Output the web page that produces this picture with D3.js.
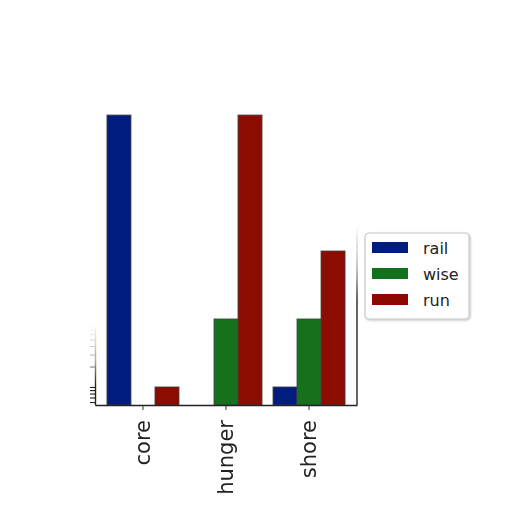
<!DOCTYPE html>
<html>
<head>
<meta charset="utf-8">
<script src="https://cdn.jsdelivr.net/npm/d3@7"></script>
<style>
  html, body { margin: 0; padding: 0; background: #fff; }
  svg { display: block; font-family: "DejaVu Sans", sans-serif; }
</style>
</head>
<body>
<div id="chart"></div>
<script>
// categories and series (log y axis)
var categories = ["core", "hunger", "shore"];
var seriesNames = ["rail", "wise", "run"];
var railValues = [10000, 0, 1];
var wiseValues = [0, 10, 10];
var runValues = [1, 10000, 100];
var colors = ["#001c7f", "#12711c", "#8c0800"];

var width = 512, height = 512;
var margin = {top: 100, right: 155, bottom: 107, left: 95};

var svg = d3.select("#chart").append("svg")
    .attr("width", width)
    .attr("height", height);

var defs = svg.append("defs");

// spines/ticks fade out going up
function fadeGrad(id, y0, y1) {
  var g = defs.append("linearGradient")
      .attr("id", id)
      .attr("gradientUnits", "userSpaceOnUse")
      .attr("x1", 0).attr("x2", 0)
      .attr("y1", y0).attr("y2", y1);
  g.append("stop").attr("offset", 0).attr("stop-color", "#fff").attr("stop-opacity", 0);
  g.append("stop").attr("offset", 0.6).attr("stop-color", "#fff").attr("stop-opacity", 0.4);
  g.append("stop").attr("offset", 1).attr("stop-color", "#fff").attr("stop-opacity", 1);
  var m = defs.append("mask").attr("id", id + "-mask")
      .attr("maskUnits", "userSpaceOnUse")
      .attr("x", -width).attr("y", 0).attr("width", 3 * width).attr("height", height);
  m.append("rect").attr("x", -width).attr("y", 0).attr("width", 3 * width).attr("height", height)
      .attr("fill", "url(#" + id + ")");
}
fadeGrad("fadeLeft", 325, 385);
fadeGrad("fadeRight", 225, 300);

var soft = defs.append("filter").attr("id", "soft")
    .attr("x", "-10%").attr("y", "-10%").attr("width", "120%").attr("height", "120%");
soft.append("feGaussianBlur").attr("stdDeviation", 0.55);

var legendShadow = defs.append("filter").attr("id", "lshadow")
    .attr("x", "-20%").attr("y", "-20%").attr("width", "140%").attr("height", "140%");
legendShadow.append("feDropShadow").attr("dx", 1).attr("dy", 1)
    .attr("stdDeviation", 1.2).attr("flood-color", "#000").attr("flood-opacity", 0.25);

var x0 = d3.scaleBand()
    .domain(categories)
    .range([margin.left, width - margin.right])
    .paddingInner(0.1325)
    .paddingOuter(0.144);

var x1 = d3.scaleBand()
    .domain(seriesNames)
    .range([0, x0.bandwidth()]);

var y = d3.scaleLog()
    .domain([0.543, 16650])
    .range([height - margin.bottom, margin.top]);

var table = seriesNames.map(function(s, i) {
  var vals = [railValues, wiseValues, runValues][i];
  return categories.map(function(c, j) {
    return {series: s, cat: c, value: vals[j], color: colors[i]};
  });
});

var plot = svg.append("g").attr("filter", "url(#soft)");

// bars
plot.append("g")
  .selectAll("g")
  .data(table)
  .join("g")
    .attr("fill", function(d, i) { return colors[i]; })
  .selectAll("rect")
  .data(function(d) { return d.filter(function(e) { return e.value > 0; }); })
  .join("rect")
    .attr("x", function(d) { return x0(d.cat) + x1(d.series); })
    .attr("y", function(d) { return y(d.value); })
    .attr("width", x1.bandwidth())
    .attr("height", function(d) { return y.range()[0] - y(d.value); })
    .attr("stroke", "#444")
    .attr("stroke-opacity", 0.7)
    .attr("stroke-width", 1.2);

// left axis: only tick marks, fading upward
var yTicks = y.ticks();
var leftAxis = d3.axisLeft(y)
    .tickValues(yTicks)
    .tickSize(5)
    .tickSizeOuter(0)
    .tickFormat("");
var gLeft = plot.append("g")
    .attr("transform", "translate(" + margin.left + ",0)")
    .attr("mask", "url(#fadeLeft-mask)")
    .call(leftAxis);
gLeft.selectAll("line").attr("stroke", "#222").attr("stroke-width", 1.1);
gLeft.select(".domain").attr("stroke", "#222").attr("stroke-width", 1.4);

// right spine
plot.append("line")
    .attr("x1", width - margin.right).attr("x2", width - margin.right)
    .attr("y1", margin.top).attr("y2", height - margin.bottom)
    .attr("stroke", "#222").attr("stroke-width", 1.4)
    .attr("mask", "url(#fadeRight-mask)");

// bottom axis
var bottomAxis = d3.axisBottom(x0).tickSize(5).tickSizeOuter(0);
var gBottom = plot.append("g")
    .attr("transform", "translate(0," + (height - margin.bottom) + ")")
    .call(bottomAxis);
gBottom.attr("font-family", "DejaVu Sans, sans-serif");
gBottom.select(".domain").attr("stroke", "#222").attr("stroke-width", 1.6);
gBottom.selectAll(".tick line").attr("stroke", "#333");
gBottom.selectAll(".tick text")
    .attr("font-size", 21)
    .attr("fill", "#222")
    .attr("transform", "rotate(-90)")
    .attr("text-anchor", "end")
    .attr("x", -15)
    .attr("y", 0)
    .attr("dy", "0.35em");

// legend
var legend = svg.append("g").attr("transform", "translate(365,233)");
legend.append("rect")
    .attr("width", 104).attr("height", 86)
    .attr("rx", 4).attr("ry", 4)
    .attr("fill", "#fff")
    .attr("stroke", "#c8c8c8")
    .attr("stroke-width", 1.2)
    .attr("filter", "url(#lshadow)");

var items = legend.selectAll("g.item")
  .data(seriesNames)
  .join("g")
    .attr("class", "item")
    .attr("transform", function(d, i) { return "translate(7," + (9 + i * 26) + ")"; });
items.append("rect")
    .attr("width", 36).attr("height", 11)
    .attr("fill", function(d, i) { return colors[i]; });
items.append("text")
    .attr("x", 51)
    .attr("y", 6)
    .attr("dy", "0.35em")
    .attr("font-size", 16)
    .attr("fill", "#222")
    .text(function(d) { return d; });
</script>
</body>
</html>
